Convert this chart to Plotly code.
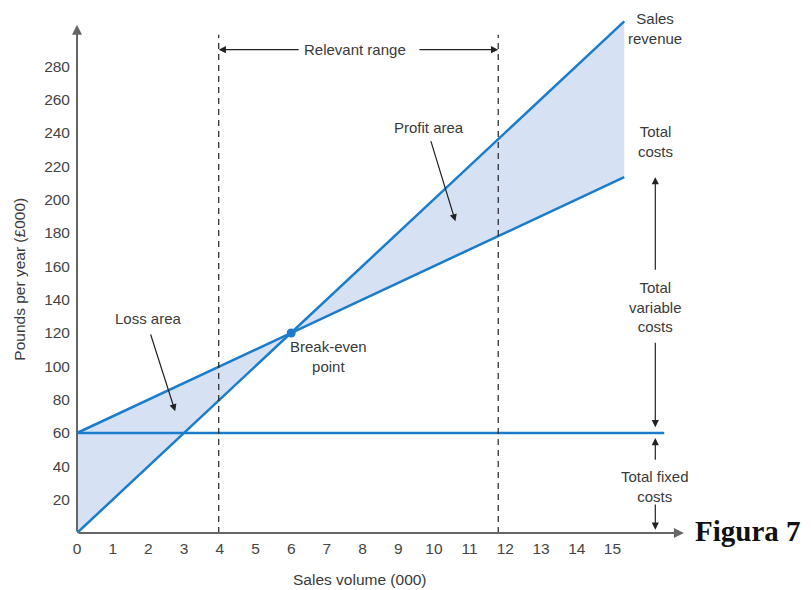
import plotly.graph_objects as go

# Data
x_ends = [0, 15.33]
sales_revenue = [0, 307]
total_costs = [60, 213.5]
fixed_x = [0, 16.45]
fixed_costs = [60, 60]
break_even = (6, 120)
relevant_range = [3.97, 11.8]
x_ticks = list(range(0, 16))
y_ticks = list(range(20, 300, 20))

BLUE = "#1b7ccb"
FILL = "rgba(200,216,240,0.75)"
TXT = "#3a3a3a"
FONT = "Liberation Sans"

fig = go.Figure()

# Loss area: between costs and revenue from 0 to break-even
fig.add_trace(go.Scatter(
    x=[x_ends[0], break_even[0], x_ends[0], x_ends[0]],
    y=[total_costs[0], break_even[1], sales_revenue[0], total_costs[0]],
    fill="toself", fillcolor=FILL, line=dict(width=0), mode="lines",
    hoverinfo="skip", showlegend=False))
# Profit area
fig.add_trace(go.Scatter(
    x=[break_even[0], x_ends[1], x_ends[1], break_even[0]],
    y=[break_even[1], sales_revenue[1], total_costs[1], break_even[1]],
    fill="toself", fillcolor=FILL, line=dict(width=0), mode="lines",
    hoverinfo="skip", showlegend=False))

# Lines
fig.add_trace(go.Scatter(x=fixed_x, y=fixed_costs, mode="lines",
                         line=dict(color=BLUE, width=2.5), showlegend=False))
fig.add_trace(go.Scatter(x=x_ends, y=total_costs, mode="lines",
                         line=dict(color=BLUE, width=2.5), showlegend=False))
fig.add_trace(go.Scatter(x=x_ends, y=sales_revenue, mode="lines",
                         line=dict(color=BLUE, width=2.5), showlegend=False))
fig.add_trace(go.Scatter(x=[break_even[0]], y=[break_even[1]], mode="markers",
                         marker=dict(color=BLUE, size=9), showlegend=False))

# Relevant range dashed lines
for xv in relevant_range:
    fig.add_shape(type="line", x0=xv, x1=xv, y0=0, y1=299, xref="x", yref="y",
                  line=dict(color="#222", width=1.2, dash="6px,5px"))

def arrow(x0, y0, x1, y1, color="#222", width=1.2, head=2, size=1.2):
    fig.add_annotation(x=x1, y=y1, ax=x0, ay=y0, xref="x", yref="y",
                       axref="x", ayref="y", text="", showarrow=True,
                       arrowhead=head, arrowsize=size, arrowwidth=width,
                       arrowcolor=color)

# Axes with arrows
arrow(0, 0, 17.0, 0, color="#666", width=2, size=1)
arrow(0, 0, 0, 305, color="#666", width=2, size=1)

# Relevant range arrows
arrow(6.25, 290, relevant_range[0], 290)
arrow(9.55, 290, relevant_range[1], 290)

# Profit / loss arrows
arrow(9.9, 236, 10.6, 187)
arrow(2.05, 120, 2.75, 73)

# Right side arrows
xr = 16.2
arrow(xr, 157, xr, 213.5)
arrow(xr, 115, xr, 63.5)
arrow(xr, 43, xr, 57)
arrow(xr, 18, xr, 2)

def label(x, y, text, size=15, align="center", xanchor="center", family=FONT,
          color=TXT):
    fig.add_annotation(x=x, y=y, xref="x", yref="y", text=text, showarrow=False,
                       font=dict(family=family, size=size, color=color),
                       align=align, xanchor=xanchor, yanchor="middle")

label(7.8, 290, "Relevant range")
label(9.85, 243.5, "Profit area")
label(2.0, 129, "Loss area")
label(7.05, 106, "Break-even<br>point")
label(16.2, 303, "Sales<br>revenue")
label(16.2, 235, "Total<br>costs")
label(16.2, 135.5, "Total<br>variable<br>costs")
label(16.2, 28, "Total fixed<br>costs")
fig.add_annotation(x=1.003, y=1, xref="paper", yref="y", text="<b>Figura 7</b>",
                   showarrow=False, xanchor="left", yanchor="middle",
                   font=dict(family="Liberation Serif", size=29, color="#111"))

# Axis titles
fig.add_annotation(x=7.93, y=-0.0895, xref="x", yref="paper",
                   text="Sales volume (000)", showarrow=False,
                   xanchor="center", yanchor="middle",
                   font=dict(family=FONT, size=15.5, color=TXT))
fig.add_annotation(x=-0.0928, y=152, xref="paper", yref="y",
                   text="Pounds per year (£000)", showarrow=False, textangle=-90,
                   xanchor="center", yanchor="middle",
                   font=dict(family=FONT, size=15.5, color=TXT))

fig.update_layout(
    width=803, height=582,
    margin=dict(l=69, r=120, t=0, b=57),
    plot_bgcolor="white", paper_bgcolor="white",
    font=dict(family=FONT, size=13, color=TXT),
    xaxis=dict(range=[0, 17.2], tickvals=x_ticks, ticktext=[str(v) for v in x_ticks],
               showgrid=False, zeroline=False, showline=False, ticks="",
               ticklabelstandoff=4,
               tickfont=dict(size=15.5, color="#444")),
    yaxis=dict(range=[0, 315], tickvals=y_ticks, ticktext=[str(v) for v in y_ticks],
               showgrid=False, zeroline=False, showline=False, ticks="",
               ticklabelstandoff=6,
               tickfont=dict(size=15.5, color="#444")),
)

fig.write_html("out.html")
